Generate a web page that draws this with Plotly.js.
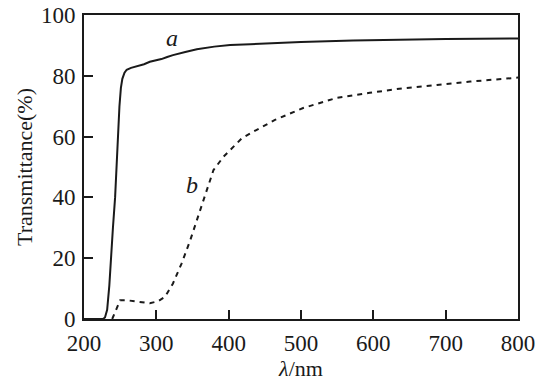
<!DOCTYPE html>
<html><head><meta charset="utf-8">
<script src="https://cdn.plot.ly/plotly-3.0.1.min.js"></script>
<style>html,body{margin:0;padding:0;background:#fff}#chart{width:547px;height:385px}</style>
</head><body><div id="chart"></div>
<script>
var aWavelength = [200, 226, 229, 232, 235, 237, 240, 243, 245, 247, 249, 251, 253, 256, 259, 265, 275, 283, 291, 300, 307, 315, 323, 340, 356, 380, 402, 430, 457, 500, 572, 650, 700, 800];
var aTransmittance = [0, 0, 0.5, 3, 11, 20, 30, 40, 52, 62, 70, 76, 79, 81, 82, 82.6, 83.2, 83.8, 84.6, 85, 85.5, 86.2, 86.8, 87.8, 88.7, 89.6, 90.1, 90.4, 90.7, 91.1, 91.6, 92, 92.1, 92.3];
var bWavelength = [239, 244, 250, 258, 270, 280, 291, 302, 312, 323, 335, 347, 356, 365, 372, 379, 393, 404, 418, 434, 448, 464, 503, 549, 595, 641, 688, 734, 800];
var bTransmittance = [0, 3, 6.2, 6.2, 5.8, 5.4, 5.2, 5.8, 7.3, 11.7, 18.3, 26, 32.6, 39, 44.5, 49, 53.4, 56.1, 59.4, 61.6, 63.5, 65.5, 69.4, 72.7, 74.4, 75.9, 77, 78.1, 79.4];
var xTicks = [200, 300, 400, 500, 600, 700, 800];
var yTicks = [0, 20, 40, 60, 80, 100];
var curveLabels = ['a', 'b'];
var labelX = [322, 349];
var labelY = [92.4, 44];

var ink = '#1a1a1a';
var fam = 'Liberation Serif, Times New Roman, serif';
var font = {family: fam, size: 23, color: ink};

var traces = [
  {x: aWavelength, y: aTransmittance, mode: 'lines', line: {color: ink, width: 2}, hoverinfo: 'skip'},
  {x: bWavelength, y: bTransmittance, mode: 'lines', line: {color: ink, width: 2, dash: '5px,5px'}, hoverinfo: 'skip'}
];

var axisCommon = {
  showgrid: false, zeroline: false, showline: true, mirror: true,
  linecolor: ink, linewidth: 2, ticks: 'inside', ticklen: 9, tickwidth: 2, tickcolor: ink,
  tickfont: font
};

var layout = {
  width: 547, height: 385,
  margin: {l: 84, r: 29, t: 15, b: 66},
  paper_bgcolor: '#fff', plot_bgcolor: '#fff',
  showlegend: false,
  font: font,
  xaxis: Object.assign({}, axisCommon, {
    range: [200, 800], tickvals: xTicks, ticktext: xTicks.map(String), ticklabelstandoff: 2,
    title: {text: '<i>λ</i>/nm', font: {family: fam, size: 22, color: ink}, standoff: 2}
  }),
  yaxis: Object.assign({}, axisCommon, {
    range: [0, 100], tickvals: yTicks, ticktext: yTicks.map(String), ticklabelstandoff: 2,
    title: {text: 'Transmittance(%)', font: {family: fam, size: 22, color: ink}, standoff: 2}
  }),
  annotations: curveLabels.map(function (t, i) {
    return {x: labelX[i], y: labelY[i], xref: 'x', yref: 'y', text: '<i>' + t + '</i>', showarrow: false,
      font: {family: fam, size: 24, color: ink}};
  })
};

Plotly.newPlot('chart', traces, layout, {staticPlot: true, displayModeBar: false});
</script>
</body></html>
